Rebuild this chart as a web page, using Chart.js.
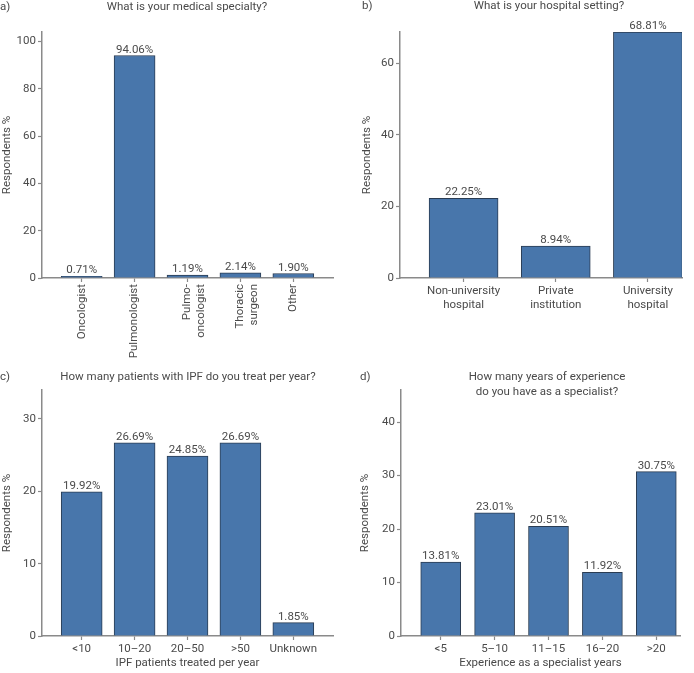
<!DOCTYPE html>
<html>
<head>
<meta charset="utf-8">
<script src="https://cdn.jsdelivr.net/npm/chart.js@4.4.1/dist/chart.umd.min.js"></script>
<style>
  body { margin: 0; background: #fff; }
  #wrap { position: relative; width: 694px; height: 673px; overflow: hidden; }
  canvas { position: absolute; }
</style>
</head>
<body>
<div id="wrap">
  <canvas id="chartA" width="347" height="362" style="left:0;top:0"></canvas>
  <canvas id="chartB" width="347" height="340" style="left:347px;top:0"></canvas>
  <canvas id="chartC" width="347" height="333" style="left:0;top:340px"></canvas>
  <canvas id="chartD" width="347" height="333" style="left:347px;top:340px"></canvas>
</div>
<script>
// data
const specialtyLabels = ['Oncologist', 'Pulmonologist', ['Pulmo-', 'oncologist'], ['Thoracic', 'surgeon'], 'Other'];
const specialtyValues = [0.71, 94.06, 1.19, 2.14, 1.90];
const specialtyMax = 104;
const specialtyStep = 20;

const settingLabels = [['Non-university', 'hospital'], ['Private', 'institution'], ['University', 'hospital']];
const settingValues = [22.25, 8.94, 68.81];
const settingMax = 68.81;
const settingStep = 20;

const patientLabels = ['<10', '10–20', '20–50', '>50', 'Unknown'];
const patientValues = [19.92, 26.69, 24.85, 26.69, 1.85];
const patientMax = 34;
const patientStep = 10;

const experienceLabels = ['<5', '5–10', '11–15', '16–20', '>20'];
const experienceValues = [13.81, 23.01, 20.51, 11.92, 30.75];
const experienceMax = 46;
const experienceStep = 10;

const FONT = "Roboto, 'Liberation Sans', sans-serif";
const TEXT = '#4a4a4a';
const AXIS = '#8a8a8a';
const BAR = '#4876ab';
const BAR_EDGE = '#2a3c52';

Chart.defaults.font.family = FONT;
Chart.defaults.font.size = 11;
Chart.defaults.color = TEXT;

// panel letter + question title
const panelText = {
    id: 'panelText',
    afterDraw(chart, args, opts) {
        const ctx = chart.ctx;
        ctx.save();
        ctx.fillStyle = TEXT;
        ctx.font = `11.5px ${FONT}`;
        ctx.textBaseline = 'middle';
        ctx.textAlign = 'left';
        ctx.fillText(opts.letter, opts.letterX, opts.y);
        ctx.textAlign = 'center';
        opts.title.forEach((line, i) => ctx.fillText(line, opts.titleX, opts.y + i * 15));
        ctx.restore();
    }
};

// percentage above every bar
const valueLabels = {
    id: 'valueLabels',
    afterDatasetsDraw(chart) {
        const ctx = chart.ctx;
        const data = chart.data.datasets[0].data;
        ctx.save();
        ctx.fillStyle = TEXT;
        ctx.font = `11.5px ${FONT}`;
        ctx.textAlign = 'center';
        ctx.textBaseline = 'alphabetic';
        chart.getDatasetMeta(0).data.forEach((bar, i) => {
            ctx.fillText(data[i].y.toFixed(2) + '%', bar.x, bar.y - 3);
        });
        ctx.restore();
    }
};

function makeChart(id, cfg) {
    const labels = cfg.labels;
    return new Chart(document.getElementById(id), {
        type: 'bar',
        data: {
            datasets: [{
                data: cfg.values.map((v, i) => ({ x: i, y: v })),
                backgroundColor: BAR,
                borderColor: BAR_EDGE,
                borderWidth: 1,
                barThickness: cfg.barWidth
            }]
        },
        options: {
            responsive: false,
            animation: false,
            devicePixelRatio: 1,
            layout: { autoPadding: false, padding: cfg.padding },
            plugins: {
                legend: { display: false },
                tooltip: { enabled: false },
                panelText: cfg.text
            },
            scales: {
                x: {
                    type: 'linear',
                    offset: false,
                    min: cfg.xMin,
                    max: cfg.xMax,
                    afterBuildTicks: s => { s.ticks = labels.map((_, i) => ({ value: i })); },
                    afterFit: s => { s.height = cfg.xHeight; },
                    border: { color: AXIS, width: 1.5 },
                    grid: { offset: false, drawOnChartArea: false, color: AXIS, tickLength: 4, tickWidth: 1.2 },
                    ticks: {
                        autoSkip: false,
                        padding: 2,
                        minRotation: cfg.rotate ? 90 : 0,
                        maxRotation: cfg.rotate ? 90 : 0,
                        callback: v => labels[v],
                        font: { size: 11.5 }
                    },
                    title: {
                        display: !!cfg.xTitle,
                        text: cfg.xTitle || '',
                        font: { size: 11.5 },
                        padding: { top: 0, bottom: 3 }
                    }
                },
                y: {
                    min: 0,
                    max: cfg.yMax,
                    afterFit: s => { s.width = cfg.yWidth; },
                    border: { color: AXIS, width: 1.5 },
                    grid: { drawOnChartArea: false, color: AXIS, tickLength: 4, tickWidth: 1.2 },
                    ticks: { stepSize: cfg.yStep, includeBounds: false, padding: 2, font: { size: 11.5 } },
                    title: {
                        display: true,
                        text: 'Respondents %',
                        font: { size: 11.5 },
                        padding: { top: cfg.yTitlePad, bottom: 0 }
                    }
                }
            }
        },
        plugins: [valueLabels, panelText]
    });
}

makeChart('chartA', {
    labels: specialtyLabels, values: specialtyValues, yMax: specialtyMax, yStep: specialtyStep,
    barWidth: 41, xMin: -0.75, xMax: 4.75, rotate: true,
    padding: { top: 32, right: 14, left: 0, bottom: 0 }, yWidth: 42, xHeight: 84, yTitlePad: 0,
    text: { letter: 'a)', letterX: 0, titleX: 187, y: 7, title: ['What is your medical specialty?'] }
});

makeChart('chartB', {
    labels: settingLabels, values: settingValues, yMax: settingMax, yStep: settingStep,
    barWidth: 69, xMin: -0.69, xMax: 2.37,
    padding: { top: 32, right: 12, left: 0, bottom: 0 }, yWidth: 53, xHeight: 62, yTitlePad: 13,
    text: { letter: 'b)', letterX: 15, titleX: 202, y: 6, title: ['What is your hospital setting?'] }
});

makeChart('chartC', {
    labels: patientLabels, values: patientValues, yMax: patientMax, yStep: patientStep,
    barWidth: 41, xMin: -0.75, xMax: 4.75, xTitle: 'IPF patients treated per year',
    padding: { top: 50, right: 14, left: 0, bottom: 0 }, yWidth: 42, xHeight: 37, yTitlePad: 0,
    text: { letter: 'c)', letterX: 0, titleX: 188, y: 37, title: ['How many patients with IPF do you treat per year?'] }
});

makeChart('chartD', {
    labels: experienceLabels, values: experienceValues, yMax: experienceMax, yStep: experienceStep,
    barWidth: 40, xMin: -0.737, xMax: 4.44, xTitle: 'Experience as a specialist years',
    padding: { top: 50, right: 14, left: 0, bottom: 0 }, yWidth: 54, xHeight: 37, yTitlePad: 11,
    text: { letter: 'd)', letterX: 13, titleX: 200, y: 37, title: ['How many years of experience', 'do you have as a specialist?'] }
});
</script>
</body>
</html>
